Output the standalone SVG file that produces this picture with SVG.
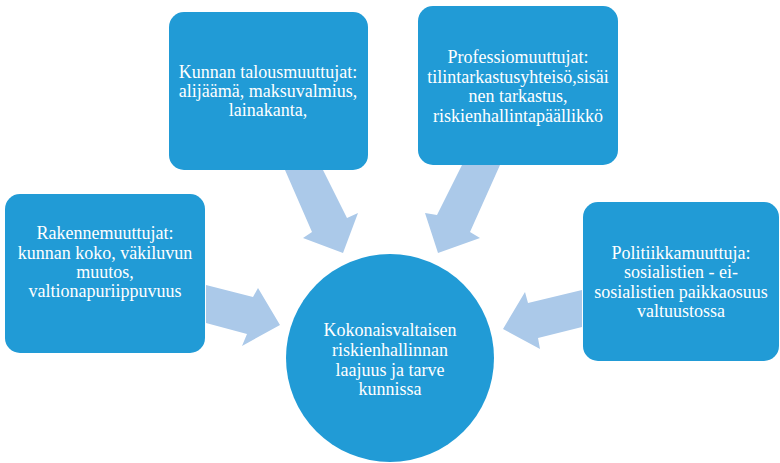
<svg xmlns="http://www.w3.org/2000/svg" width="780" height="463" viewBox="0 0 780 463">
<style>
.box{fill:#219bd6}
.arr{fill:#abc9e9}
.t{font-family:"Liberation Serif","Times New Roman",serif;font-size:18px;fill:#ffffff;text-anchor:middle}
</style>
<rect x="0" y="0" width="780" height="463" fill="#ffffff"/>
<g id="connectors">
<polygon class="arr" points="206,285 253,297 258,288 280,325 242,346 247,334 206,323"/>
<polygon class="arr" points="285,170 323,170 347,218 358,213 343,253 303,238 312,232"/>
<polygon class="arr" points="462,165 500,165 470,232 480,238 438,253 425,213 437,215"/>
<polygon class="arr" points="582,290 582,327 538,338 540,349 503,329 525,292 528,303"/>
</g>
<g id="node-rakenne">
<rect class="box" x="5" y="194" width="200" height="159" rx="15"/>
<text class="t" x="105"><tspan x="105" y="239">Rakennemuuttujat:</tspan><tspan x="105" y="259">kunnan koko, väkiluvun</tspan><tspan x="105" y="278">muutos,</tspan><tspan x="105" y="297">valtionapuriippuvuus</tspan></text>
</g>
<g id="node-talous">
<rect class="box" x="169" y="12" width="199" height="158" rx="15"/>
<text class="t"><tspan x="268" y="78">Kunnan talousmuuttujat:</tspan><tspan x="268" y="97">alijäämä, maksuvalmius,</tspan><tspan x="268" y="116">lainakanta,</tspan></text>
</g>
<g id="node-professio">
<rect class="box" x="418" y="6" width="200" height="159" rx="15"/>
<text class="t"><tspan x="518" y="63">Professiomuuttujat:</tspan><tspan x="518" y="83">tilintarkastusyhteisö,sisäi</tspan><tspan x="518" y="102">nen tarkastus,</tspan><tspan x="518" y="122">riskienhallintapäällikkö</tspan></text>
</g>
<g id="node-politiikka">
<rect class="box" x="583" y="202" width="196" height="159" rx="15"/>
<text class="t"><tspan x="681" y="259">Politiikkamuuttuja:</tspan><tspan x="681" y="278">sosialistien - ei-</tspan><tspan x="681" y="298">sosialistien paikkaosuus</tspan><tspan x="681" y="317">valtuustossa</tspan></text>
</g>
<g id="node-center">
<circle class="box" cx="390" cy="358" r="104"/>
<text class="t"><tspan x="390" y="336">Kokonaisvaltaisen</tspan><tspan x="390" y="356">riskienhallinnan</tspan><tspan x="390" y="376">laajuus ja tarve</tspan><tspan x="390" y="395">kunnissa</tspan></text>
</g>
</svg>
